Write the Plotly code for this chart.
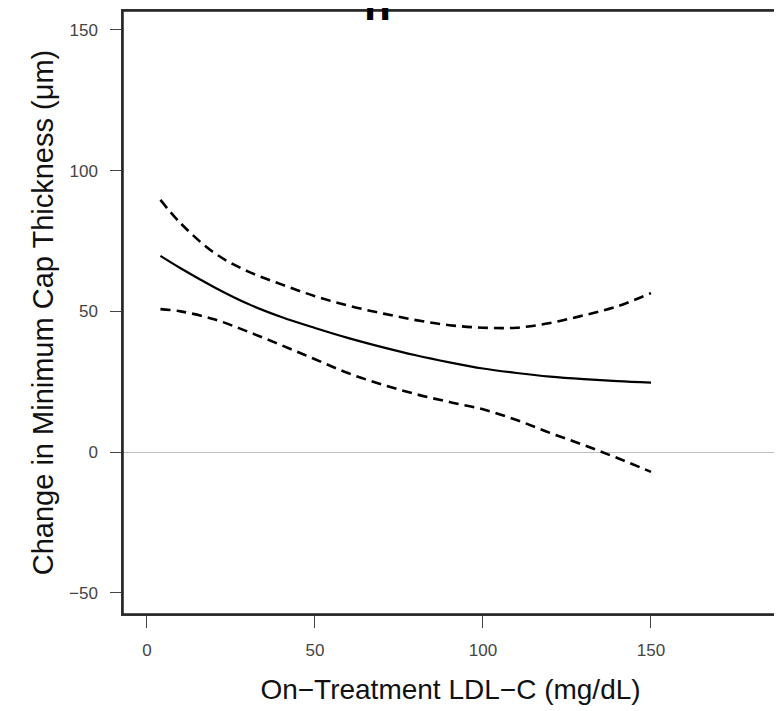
import plotly.graph_objects as go

# Data
ldl = [4, 10, 20, 30, 40, 50, 60, 70, 80, 90, 100, 110, 120, 130, 140, 150]
fit = [69.7, 65.3, 58.6, 52.7, 48.0, 44.1, 40.5, 37.3, 34.4, 31.9, 29.7, 28.1, 26.8, 25.9, 25.2, 24.7]
upper = [89.6, 81.3, 70.8, 64.2, 59.6, 55.4, 52.0, 49.3, 46.9, 45.1, 44.2, 44.2, 45.9, 48.6, 51.8, 56.5]
lower = [50.8, 50.0, 47.2, 42.8, 38.0, 33.0, 28.0, 24.0, 20.6, 17.8, 15.2, 11.4, 6.8, 2.5, -2.1, -7.0]

x_ticks = [0, 50, 100, 150]
y_ticks = [-50, 0, 50, 100, 150]
y_tick_text = ["\u221250", "0", "50", "100", "150"]

fig = go.Figure()
fig.add_trace(go.Scatter(x=ldl, y=upper, mode="lines",
                         line=dict(color="black", width=2.6, dash="10px,6px", shape="spline"),
                         hoverinfo="skip"))
fig.add_trace(go.Scatter(x=ldl, y=lower, mode="lines",
                         line=dict(color="black", width=2.6, dash="10px,6px", shape="spline"),
                         hoverinfo="skip"))
fig.add_trace(go.Scatter(x=ldl, y=fit, mode="lines",
                         line=dict(color="black", width=2.2, shape="spline"),
                         hoverinfo="skip"))

font_family = "Liberation Sans, Arial, sans-serif"

W, H = 774, 703
L, R, T, B = 115, 4, 3, 97
plot_h = H - T - B

fig.update_layout(
    width=W, height=H,
    margin=dict(l=L, r=R, t=T, b=B, autoexpand=False),
    paper_bgcolor="white", plot_bgcolor="white",
    showlegend=False,
    font=dict(family=font_family, color="#333333"),
    xaxis=dict(
        range=[-7.14, 187.8], automargin=False,
        tickvals=x_ticks, ticktext=[str(v) for v in x_ticks],
        ticks="outside", ticklen=12, tickcolor="#444444", tickwidth=1.2,
        showline=True, linecolor="#333333", linewidth=1.5, mirror=True,
        showgrid=False, zeroline=False,
        tickfont=dict(size=17, color="#444444"),
        ticklabelstandoff=8,
        title=dict(text="On\u2212Treatment LDL\u2212C (mg/dL)",
                   font=dict(size=28, color="#111111"), standoff=20),
    ),
    yaxis=dict(
        range=[-57.5, 156.7], automargin=False,
        tickvals=y_ticks, ticktext=y_tick_text,
        ticks="outside", ticklen=11, tickcolor="#444444", tickwidth=1.2,
        showline=True, linecolor="#333333", linewidth=1.5, mirror=True,
        showgrid=False,
        zeroline=True, zerolinecolor="#bdbdbd", zerolinewidth=1,
        tickfont=dict(size=17, color="#444444"),
        ticklabelstandoff=9,
        title=dict(text="Change in Minimum Cap Thickness (\u03bcm)",
                   font=dict(size=29, color="#111111"), standoff=7),
    ),
)

# plot frame (box around the panel)
fig.add_shape(type="rect", xref="paper", yref="paper", x0=0, x1=1, y0=0, y1=1,
              line=dict(color="#222222", width=1.5), layer="above")

# clipped bold glyph at the top edge
fig.add_annotation(
    text="<b>n</b>", xref="paper", yref="paper",
    x=(369 - L) / (W - L - R), y=1 - 19.5 / plot_h,
    xanchor="center", yanchor="bottom", showarrow=False,
    font=dict(size=44, color="black", family=font_family),
)

fig.write_html("out.html")
